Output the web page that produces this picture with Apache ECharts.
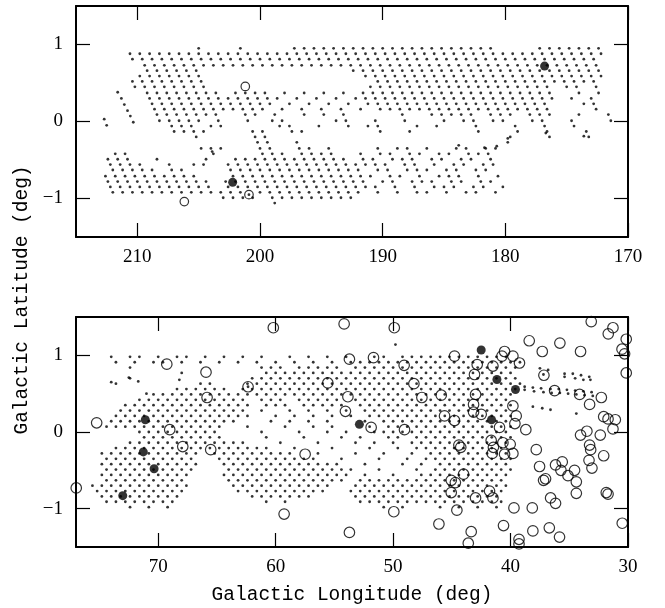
<!DOCTYPE html>
<html><head><meta charset="utf-8">
<script src="https://cdn.jsdelivr.net/npm/echarts@6/dist/echarts.min.js"></script>
<style>html,body{margin:0;padding:0;background:#fff}#c{width:665px;height:608px}</style>
</head><body><div id="c"></div>
<script>
// ---------- tick values ----------
const topTicksX = [170, 180, 190, 200, 210];
const botTicksX = [30, 40, 50, 60, 70];
const ticksY = [-1, 0, 1];

// ---------- upper panel: survey pointings (rows of latitude, longitudes per row) ----------
const topLat = [0.95, 0.88, 0.81, 0.73, 0.66, 0.59, 0.52, 0.45, 0.37, 0.30, 0.23, 0.16, 0.09, 0.01, -0.06, -0.13, -0.20, -0.27, -0.35, -0.42, -0.49, -0.56, -0.63, -0.71, -0.78, -0.85, -0.92, -0.99, -1.06];
const topLon = [
 [172.4,173.2,174.0,174.8,175.6,176.4,177.2,181.2,182.0,182.8,183.6,184.4,185.2,186.0,186.8,187.6,188.4,189.2,190.0,190.8,191.6,192.4,193.2,194.0,194.8,195.6,196.4,197.2,201.6,205.0],
 [172.2,173.0,173.8,174.6,175.4,176.2,177.0,177.8,178.6,179.4,180.2,181.0,181.8,182.6,183.4,184.2,185.0,185.8,186.6,187.4,188.2,189.0,189.8,190.6,191.4,192.2,193.0,193.8,194.6,195.4,196.2,197.0,197.8,198.6,199.4,200.2,201.0,201.8,202.6,203.4,204.2,205.0,205.8,206.6,207.4,208.2,209.0,209.8,210.6],
 [172.8,173.6,174.4,175.2,176.0,176.8,177.6,178.4,179.2,180.0,180.8,181.6,182.4,183.2,184.0,184.8,185.6,186.4,187.2,188.0,188.8,189.6,190.4,191.2,192.0,192.8,193.6,194.4,195.2,196.0,196.8,197.6,198.4,199.2,200.0,200.8,201.6,202.4,203.2,204.0,204.8,205.6,206.4,207.2,208.0,208.8,209.6,210.4],
 [172.6,173.4,174.2,175.0,175.8,176.6,177.4,178.2,179.0,179.8,180.6,181.4,182.2,183.0,183.8,184.6,185.4,186.2,187.0,187.8,188.6,189.4,190.2,191.0,191.8,192.6,193.4,194.2,195.0,195.8,196.6,197.4,198.2,199.0,199.8,200.6,201.4,202.2,203.0,203.8,204.6,205.4,206.2,207.0,207.8,208.6,209.4],
 [172.4,173.2,174.0,174.8,175.6,176.4,177.2,178.0,178.8,179.6,180.4,181.2,182.0,182.8,183.6,184.4,185.2,186.0,186.8,187.6,188.4,189.2,190.0,190.8,191.6,192.4,205.2,206.0,206.8,207.6,208.4,209.2],
 [172.2,173.0,173.8,174.6,175.4,176.2,177.0,177.8,178.6,179.4,180.2,181.0,181.8,182.6,183.4,184.2,185.0,185.8,186.6,187.4,188.2,189.0,189.8,190.6,191.4,205.0,205.8,206.6,207.4,208.2,209.0,209.8],
 [172.8,173.6,174.4,175.2,176.0,176.8,177.6,178.4,179.2,180.0,180.8,181.6,182.4,183.2,184.0,184.8,185.6,186.4,187.2,188.0,188.8,189.6,190.4,204.8,205.6,206.4,207.2,208.0,208.8,209.6,210.4],
 [172.6,174.2,175.0,176.6,177.4,178.2,179.0,179.8,180.6,181.4,182.2,183.0,183.8,184.6,185.4,186.2,187.0,187.8,188.6,189.4,190.2,191.0,204.6,205.4,206.2,207.0,207.8,208.6,209.4,210.2],
 [172.4,174.0,176.4,177.2,178.0,178.8,179.6,180.4,181.2,182.0,182.8,183.6,184.4,185.2,186.0,186.8,187.6,188.4,189.2,190.0,190.8,191.6,193.2,194.8,196.4,198.0,199.6,200.4,201.2,202.0,203.6,204.4,205.2,206.0,206.8,207.6,208.4,209.2],
 [173.0,174.6,176.2,177.0,177.8,178.6,179.4,180.2,181.0,181.8,182.6,183.4,184.2,185.0,185.8,186.6,187.4,188.2,189.0,189.8,190.6,191.4,192.2,193.8,195.4,197.0,198.6,199.4,200.2,201.0,201.8,202.6,203.4,204.2,205.0,205.8,206.6,207.4,208.2,209.0],
 [172.8,173.6,176.8,177.6,178.4,179.2,180.0,180.8,181.6,182.4,183.2,184.0,184.8,185.6,186.4,187.2,188.0,188.8,189.6,190.4,191.2,192.8,194.4,196.0,197.6,199.2,200.0,200.8,201.6,202.4,203.2,204.0,204.8,205.6,206.4,207.2,208.0,208.8],
 [172.6,176.6,177.4,178.2,179.0,179.8,180.6,181.4,182.2,183.0,183.8,184.6,185.4,186.2,187.0,187.8,188.6,189.4,190.2,191.8,193.4,195.0,196.6,198.2,199.8,200.6,201.4,202.2,203.0,203.8,204.6,205.4,206.2,207.0,207.8,208.6],
 [171.6,174.0,176.4,177.2,178.0,179.6,180.4,181.2,182.8,183.6,184.4,185.2,186.0,188.4,193.2,194.8,196.4,198.8,200.4,201.2,203.6,204.4,205.2,206.0,206.8,207.6,208.4],
 [171.4,174.6,177.0,177.8,180.2,181.0,182.6,183.4,185.0,188.2,190.6,193.0,193.8,198.2,199.0,201.0,203.4,205.0,205.8,206.6,207.4,208.2],
 [174.4,176.8,179.2,182.4,185.6,187.2,190.4,191.2,192.8,195.2,197.6,198.4,203.2,204.0,205.6,206.4,207.2],
 [173.4,176.6,179.0,182.2,187.8,190.2,196.6,197.4,199.8,200.6,204.6,205.4,206.2,207.0],
 [173.2,176.4,179.6,199.6,200.4,205.2],
 [179.8,197.0,199.4,200.2],
 [180.8,181.6,183.2,184.0,186.4,188.0,188.8,190.4,194.4,196.0,196.8,199.2,200.0,203.2,204.0,204.8],
 [181.4,182.2,183.0,184.6,185.4,187.0,187.8,189.4,190.2,191.8,194.2,195.0,195.8,196.6,198.2,199.0,199.8,203.8,211.0,211.8],
 [181.2,182.8,183.6,185.2,186.0,187.6,188.4,189.2,190.8,191.6,193.2,194.0,194.8,195.6,196.4,197.2,198.0,198.8,199.6,200.4,201.2,202.0,204.4,208.4,210.8,211.6,212.4],
 [181.0,181.8,183.4,184.2,185.8,187.4,188.2,189.8,190.6,191.4,192.2,193.0,193.8,194.6,195.4,196.2,197.0,197.8,198.6,199.4,200.2,201.0,201.8,202.6,204.6,205.4,207.4,209.8,210.6,211.4,212.2],
 [181.6,182.4,184.0,184.8,186.4,187.2,188.0,189.6,190.4,192.0,192.8,193.6,194.4,195.2,196.0,196.8,197.6,198.4,199.2,200.0,200.8,201.6,202.4,206.4,207.2,208.8,209.6,210.4,211.2,212.0],
 [180.6,182.2,183.8,184.6,185.4,187.0,188.6,189.4,191.0,191.8,192.6,193.4,194.2,195.0,195.8,196.6,197.4,198.2,199.0,199.8,200.6,201.4,202.2,205.4,206.2,207.0,207.8,208.6,209.4,210.2,211.0,211.8,212.6],
 [181.2,182.0,183.6,184.4,186.0,186.8,187.6,189.2,190.0,191.6,192.4,193.2,194.0,194.8,195.6,196.4,197.2,198.0,198.8,199.6,200.4,201.2,202.0,202.8,204.4,205.2,206.0,206.8,207.6,208.4,209.2,210.0,210.8,211.6,212.4],
 [180.2,181.8,182.6,184.2,185.0,185.8,187.4,189.0,190.6,191.4,192.2,193.0,193.8,194.6,195.4,196.2,197.0,197.8,198.6,199.4,200.2,201.0,201.8,202.6,204.2,205.0,205.8,206.6,207.4,208.2,209.0,209.8,210.6,211.4,212.2],
 [180.8,182.4,183.2,184.8,186.4,187.2,188.8,190.4,192.0,192.8,193.6,194.4,195.2,196.0,196.8,197.6,198.4,199.2,200.0,201.6,202.4,203.2,204.0,204.8,205.6,206.4,207.2,208.0,208.8,209.6,210.4,211.2,212.0],
 [192.6,193.4,194.2,195.0,195.8,196.6,197.4,198.2,199.0,200.6,201.4,202.2,203.0],
 [198.8]
];
const topExtraDots = [[212.7,0.03],[212.5,-0.05],[211.6,0.38],[211.3,0.30],[211.06,0.22],[210.8,0.14],[210.57,0.07],[210.33,-0.01],[200.9,-0.95],[203.9,-0.39],[183.8,-0.31],[181.7,-0.34],[180.7,-0.32],[179.8,-0.22],[176.7,-0.15],[173.6,-0.19]];
const topOpen = [[201.2,0.455],[206.17,-1.04],[200.9,-0.95]];
const topFilled = [[202.23,-0.79],[176.8,0.72]];

// ---------- lower panel ----------
const botLat = [0.98, 0.91, 0.84, 0.77, 0.70, 0.63, 0.56, 0.49, 0.42, 0.35, 0.28, 0.21, 0.14, 0.07, 0.00, -0.07, -0.14, -0.21, -0.28, -0.35, -0.42, -0.49, -0.56, -0.63, -0.70, -0.77, -0.84, -0.91, -0.98];
const botLon = [
 [74.0,72.4,71.6,70.0,68.4,67.6,66.0,64.4,62.8,61.2,58.8,57.2,55.6,54.0,51.6,50.8,49.2,48.4,47.6,46.8,46.0,45.2,44.4,43.6,42.8,42.0,41.2,40.4],
 [73.6,72.0,70.4,69.6,68.0,66.4,64.8,63.2,61.6,60.0,58.4,56.8,55.2,53.6,52.8,52.0,51.2,50.4,49.6,48.8,48.0,47.2,46.4,45.6,44.8,44.0,43.2,42.4,41.6,40.8,40.0,39.2],
 [72.4,61.2,60.4,59.6,58.0,57.2,56.4,55.6,54.8,53.2,52.4,51.6,50.8,50.0,49.2,48.4,47.6,46.8,46.0,45.2,44.4,43.6,42.8,42.0,41.2,40.4,39.6],
 [68.0,60.8,60.0,59.2,58.4,57.6,56.8,56.0,55.2,54.4,53.6,52.8,52.0,51.2,50.4,49.6,48.8,48.0,47.2,46.4,45.6,44.8,44.0,43.2,42.4,41.6,40.8,40.0],
 [72.4,62.0,61.2,60.4,59.6,58.8,58.0,57.2,56.4,55.6,54.8,54.0,53.2,52.4,51.6,50.8,50.0,49.2,48.4,47.6,46.8,46.0,45.2,44.4,43.6,42.8,42.0,41.2,40.4,39.6],
 [73.6,66.4,65.6,62.4,61.6,60.8,60.0,59.2,58.4,57.6,56.8,56.0,55.2,54.4,53.6,52.8,52.0,51.2,50.4,49.6,48.8,48.0,47.2,46.4,45.6,44.8,44.0,43.2,42.4,41.6,40.8,40.0,39.2],
 [68.4,67.6,66.8,66.0,65.2,64.4,62.8,62.0,61.2,60.4,59.6,58.8,58.0,57.2,56.4,55.6,54.8,54.0,53.2,52.4,51.6,50.8,50.0,49.2,48.4,47.6,46.8,46.0,45.2,44.4,43.6,42.8,42.0,41.2,40.4,39.6],
 [70.4,69.6,68.8,68.0,67.2,66.4,65.6,64.8,64.0,63.2,62.4,61.6,60.8,60.0,59.2,58.4,57.6,56.8,56.0,55.2,54.4,53.6,52.8,52.0,51.2,50.4,49.6,48.8,48.0,47.2,46.4,45.6,44.8,44.0,43.2,42.4,41.6,40.8,40.0],
 [71.6,70.8,70.0,69.2,68.4,67.6,66.8,66.0,65.2,64.4,63.6,62.8,61.2,60.4,59.6,58.0,57.2,56.4,55.6,54.8,53.2,52.4,51.6,50.8,50.0,49.2,48.4,47.6,46.8,46.0,45.2,44.4,43.6,42.8,42.0,41.2,40.4],
 [72.8,72.0,71.2,70.4,69.6,68.8,68.0,67.2,66.4,65.6,64.8,64.0,63.2,62.4,60.8,60.0,59.2,57.6,56.8,56.0,55.2,54.4,52.8,52.0,51.2,50.4,49.6,48.8,48.0,47.2,46.4,45.6,44.8,44.0,43.2,42.4,41.6,40.8,40.0],
 [73.2,72.4,71.6,70.8,70.0,69.2,68.4,67.6,66.8,66.0,65.2,64.4,63.6,62.8,61.2,58.8,57.2,55.6,54.0,52.4,51.6,50.8,50.0,49.2,48.4,47.6,46.8,46.0,45.2,44.4,43.6,42.8,42.0,41.2,40.4],
 [73.6,72.8,72.0,71.2,70.4,69.6,68.8,68.0,67.2,66.4,65.6,64.8,64.0,63.2,62.4,60.0,58.4,56.8,55.2,53.6,52.0,51.2,50.4,49.6,48.8,48.0,47.2,46.4,45.6,44.8,44.0,43.2,42.4,41.6,40.8,40.0],
 [74.0,73.2,72.4,71.6,70.8,70.0,69.2,68.4,67.6,66.8,66.0,65.2,64.4,63.6,60.4,58.8,57.2,55.6,52.4,50.8,50.0,49.2,48.4,47.6,46.8,46.0,45.2,44.4,43.6,42.8,42.0,41.2,40.4],
 [74.4,73.6,72.8,72.0,71.2,70.4,69.6,68.8,68.0,67.2,66.4,65.6,64.8,62.4,59.2,56.8,55.2,52.0,50.4,49.6,48.8,48.0,47.2,46.4,45.6,44.8,44.0,43.2,42.4,41.6,40.8,40.0],
 [71.6,70.8,70.0,69.2,68.4,67.6,66.8,66.0,65.2,61.2,58.0,55.6,54.0,51.6,50.8,50.0,49.2,48.4,47.6,46.8,46.0,45.2,44.4,43.6,42.8,42.0,41.2,40.4],
 [71.2,70.4,69.6,68.8,68.0,67.2,66.4,65.6,64.8,60.8,57.6,54.4,52.8,50.4,49.6,48.0,47.2,46.4,45.6,44.8,44.0,43.2,42.4,41.6,40.8,40.0],
 [72.4,71.6,70.8,70.0,69.2,68.4,67.6,66.8,66.0,65.2,64.4,63.6,62.8,59.6,56.4,53.2,51.6,50.0,48.4,47.6,46.8,46.0,45.2,44.4,43.6,42.8,42.0,41.2,40.4],
 [73.6,72.8,72.0,71.2,70.4,69.6,68.8,68.0,67.2,66.4,65.6,64.8,64.0,63.2,62.4,61.6,60.8,58.4,55.2,52.0,49.6,48.0,47.2,46.4,45.6,44.8,44.0,43.2,42.4,41.6,40.8],
 [74.8,74.0,73.2,72.4,71.6,70.8,70.0,69.2,68.4,67.6,66.8,65.2,64.4,63.6,62.8,62.0,61.2,60.4,59.6,58.8,56.4,53.2,50.8,48.4,46.8,46.0,45.2,44.4,43.6,42.8,42.0,41.2,40.4],
 [74.4,73.6,72.8,72.0,71.2,70.4,69.6,68.8,68.0,67.2,64.8,64.0,63.2,62.4,61.6,60.8,60.0,59.2,58.4,57.6,56.8,54.4,51.2,48.8,47.2,46.4,45.6,44.8,44.0,43.2,42.4,41.6,40.8,40.0],
 [74.8,74.0,73.2,72.4,71.6,70.8,70.0,69.2,68.4,67.6,66.8,64.4,63.6,62.8,62.0,61.2,60.4,59.6,58.8,58.0,57.2,56.4,55.6,54.8,52.4,49.2,47.6,46.0,45.2,44.4,43.6,42.8,42.0,41.2,40.4],
 [74.4,73.6,72.8,72.0,71.2,70.4,69.6,68.8,68.0,67.2,64.0,63.2,62.4,61.6,60.8,60.0,59.2,58.4,57.6,56.8,56.0,55.2,54.4,53.6,51.2,48.0,46.4,45.6,44.8,44.0,43.2,42.4,41.6,40.8,40.0],
 [74.8,74.0,73.2,72.4,71.6,70.8,70.0,69.2,68.4,67.6,64.4,63.6,62.8,62.0,61.2,60.4,59.6,58.8,58.0,57.2,56.4,55.6,54.8,54.0,52.4,50.0,47.6,46.8,46.0,45.2,44.4,43.6,42.8,42.0,41.2,40.4],
 [74.4,73.6,72.8,72.0,71.2,70.4,69.6,68.8,68.0,64.0,63.2,62.4,61.6,60.8,60.0,59.2,58.4,57.6,56.8,56.0,55.2,54.4,52.8,52.0,51.2,50.4,49.6,48.8,48.0,47.2,46.4,45.6,44.8,44.0,43.2,42.4,41.6,40.8],
 [75.6,74.8,74.0,73.2,72.4,71.6,70.8,70.0,69.2,68.4,67.6,63.6,62.8,62.0,61.2,60.4,59.6,58.8,58.0,57.2,56.4,55.6,53.2,52.4,51.6,50.8,50.0,49.2,48.4,47.6,46.8,46.0,45.2,44.4,43.6,42.8,42.0,41.2,40.4],
 [75.2,74.4,73.6,72.8,72.0,71.2,70.4,69.6,68.8,68.0,63.2,62.4,61.6,60.8,60.0,59.2,58.4,57.6,56.8,56.0,53.6,52.8,52.0,51.2,50.4,49.6,48.8,48.0,47.2,46.4,45.6,44.8,44.0,43.2,42.4,41.6,40.8],
 [74.8,74.0,73.2,72.4,71.6,70.8,70.0,69.2,68.4,62.0,61.2,60.4,59.6,58.8,58.0,57.2,53.2,52.4,51.6,50.8,50.0,49.2,48.4,47.6,46.8,46.0,45.2,44.4,43.6,42.8,42.0,41.2],
 [74.4,73.6,72.8,72.0,71.2,70.4,69.6,68.8,60.8,59.2,52.8,52.0,51.2,50.4,49.6,48.8,48.0,47.2,46.4,45.6,44.8,44.0,43.2,42.4,41.6,40.8],
 [72.4,70.8,69.2,50.8,49.2,46.0,44.4,42.8,41.2]
];
const botExtraDots = [[49.8,1.14],[74.0,0.65],[72.5,0.71],[71.7,0.66],[71.0,0.50],[68.2,0.68],[62.35,0.59],
 [38.8,0.59],[38.8,0.55],[38.1,0.58],[38.0,0.53],[37.4,0.57],[37.2,0.52],[36.6,0.56],[36.5,0.51],[35.9,0.56],[35.8,0.51],[35.2,0.55],[35.1,0.50],[34.5,0.54],[34.4,0.49],[33.8,0.53],[33.7,0.48],[33.1,0.52],[33.0,0.47],
 [37.5,0.83],[36.8,0.81],[37.2,0.75],[35.4,0.76],[34.7,0.76],[34.0,0.74],[33.3,0.72],[35.4,0.72],[34.5,0.70],[33.8,0.68],[33.2,0.68],
 [38.1,0.33],[37.3,0.31],[36.6,0.29],[34.4,0.24]];
const botOpen = [[33.13,1.44],[31.28,1.36],[31.68,1.28],[30.15,1.21],[30.51,1.08],[30.29,1.02],[30.15,0.77],[38.41,1.19],[37.3,1.05],[35.8,1.16],[34.04,1.05],[40.51,1.05],[39.8,0.99],[39.24,0.90],[40.73,0.99],[41.5,0.86],[42.84,0.88],[43.07,0.75],[44.77,0.99],[37.16,0.74],[36.25,0.54],[34.12,0.49],[32.27,0.45],[33.27,0.36],[45.9,0.48],[42.98,0.49],[43.15,0.36],[43.15,0.26],[42.5,0.23],[45.62,0.21],[44.77,0.15],[39.8,0.34],[39.52,0.21],[39.63,0.11],[40.94,0.06],[38.7,0.03],[32.07,0.20],[31.7,0.17],[31.08,0.16],[31.28,0.04],[34.04,-0.04],[33.5,0.01],[32.36,-0.04],[33.27,-0.17],[33.18,-0.23],[32.07,-0.31],[33.32,-0.37],[33.07,-0.47],[37.81,-0.23],[37.53,-0.45],[36.17,-0.43],[35.6,-0.39],[35.71,-0.50],[35.11,-0.57],[34.55,-0.50],[34.4,-0.65],[34.4,-0.80],[37.02,-0.61],[37.19,-0.63],[36.59,-0.86],[36.17,-0.93],[31.85,-0.79],[31.7,-0.81],[30.49,-1.19],[38.15,-0.99],[39.71,-0.99],[40.6,-1.22],[38.1,-1.29],[36.7,-1.25],[35.83,-1.37],[39.28,-1.40],[39.28,-1.46],[43.6,-1.45],[43.35,-1.30],[46.1,-1.20],[44.57,-1.02],[42.98,-0.86],[45.05,-0.79],[41.79,-0.77],[41.5,-0.86],[45.05,-0.63],[44.7,-0.66],[44.0,-0.55],[41.65,-0.11],[41.46,-0.20],[41.56,-0.28],[40.65,-0.14],[40.51,-0.29],[40.03,-0.16],[39.8,-0.28],[44.4,-0.17],[44.24,-0.20],
 [60.2,1.36],[49.9,1.36],[54.17,1.41],[53.72,0.95],[51.67,0.97],[49.06,0.87],[55.56,0.64],[53.85,0.46],[54.06,0.27],[51.87,0.06],[49.03,0.03],[48.23,0.63],[47.55,0.45],[57.49,-0.29],[59.28,-1.07],[49.94,-1.04],[53.72,-1.31],[75.24,0.12],[76.98,-0.73],[69.27,0.885],[65.93,0.78],[65.84,0.45],[62.35,0.59],[69.02,0.03],[67.91,-0.19],[65.53,-0.23]];
const botFilled = [[71.1,0.16],[71.27,-0.26],[70.35,-0.48],[73.02,-0.83],[52.87,0.10],[42.5,1.07],[41.16,0.685],[39.58,0.555],[41.62,0.16]];

function rowsToPoints(lats, lons) {
  const out = [];
  lats.forEach((b, i) => lons[i].forEach(l => out.push([l, b])));
  return out;
}

const tickFont = 'Liberation Serif';
const minus = v => String(v).replace('-', '\u2212');

function xAx(grid, min, max, ticks, pos, showLabel) {
  return {
    gridIndex: grid, type: 'value', min: min, max: max, inverse: true, position: pos,
    axisLine: {show: true, onZero: false, lineStyle: {color: '#000', width: 2}},
    axisTick: {show: true, inside: true, length: 14, customValues: ticks, lineStyle: {color: '#000', width: 1.2}},
    axisLabel: {show: showLabel, customValues: ticks, margin: 11, color: '#000', fontFamily: tickFont, fontSize: 19, formatter: minus},
    splitLine: {show: false}
  };
}
function yAx(grid, pos, showLabel) {
  return {
    gridIndex: grid, type: 'value', min: -1.5, max: 1.5, position: pos,
    axisLine: {show: true, onZero: false, lineStyle: {color: '#000', width: 2}},
    axisTick: {show: true, inside: true, length: 14, customValues: ticksY, lineStyle: {color: '#000', width: 1.2}},
    axisLabel: {show: showLabel, customValues: ticksY, margin: 13, color: '#000', fontFamily: tickFont, fontSize: 19, formatter: minus},
    splitLine: {show: false}
  };
}

const dotStyle = {color: '#000'};
const openStyle = {color: 'rgba(0,0,0,0)', borderColor: '#000', borderWidth: 1.2};

const option = {
  animation: false,
  backgroundColor: '#fff',
  grid: [
    {left: 76, top: 6, width: 552, height: 231},
    {left: 76, top: 317, width: 552, height: 230}
  ],
  xAxis: [
    xAx(0, 170, 215, topTicksX, 'bottom', true),
    xAx(0, 170, 215, topTicksX, 'top', false),
    xAx(1, 30, 77, botTicksX, 'bottom', true),
    xAx(1, 30, 77, botTicksX, 'top', false)
  ],
  yAxis: [
    yAx(0, 'left', true), yAx(0, 'right', false),
    yAx(1, 'left', true), yAx(1, 'right', false)
  ],
  series: [
    {type: 'scatter', xAxisIndex: 0, yAxisIndex: 0, symbolSize: 2.8, itemStyle: dotStyle, silent: true,
     data: rowsToPoints(topLat, topLon).concat(topExtraDots)},
    {type: 'scatter', xAxisIndex: 0, yAxisIndex: 0, symbolSize: 8.5, itemStyle: openStyle, silent: true, data: topOpen},
    {type: 'scatter', xAxisIndex: 0, yAxisIndex: 0, symbolSize: 9, itemStyle: dotStyle, silent: true, data: topFilled},
    {type: 'scatter', xAxisIndex: 2, yAxisIndex: 2, symbolSize: 2.8, itemStyle: dotStyle, silent: true,
     data: rowsToPoints(botLat, botLon).concat(botExtraDots)},
    {type: 'scatter', xAxisIndex: 2, yAxisIndex: 2, symbolSize: 10.5, itemStyle: openStyle, silent: true, data: botOpen},
    {type: 'scatter', xAxisIndex: 2, yAxisIndex: 2, symbolSize: 9, itemStyle: dotStyle, silent: true, data: botFilled}
  ],
  graphic: [
    {type: 'text', x: 352, y: 595, silent: true,
     style: {text: 'Galactic Longitude (deg)', fill: '#000', font: '19.5px "Liberation Mono"', textAlign: 'center', textVerticalAlign: 'middle'}},
    {type: 'text', x: 22, y: 300, rotation: Math.PI / 2, silent: true,
     style: {text: 'Galactic Latitude (deg)', fill: '#000', font: '19.5px "Liberation Mono"', textAlign: 'center', textVerticalAlign: 'middle'}}
  ]
};

const chart = echarts.init(document.getElementById('c'), null, {renderer: 'canvas'});
chart.setOption(option);
</script>
</body></html>
